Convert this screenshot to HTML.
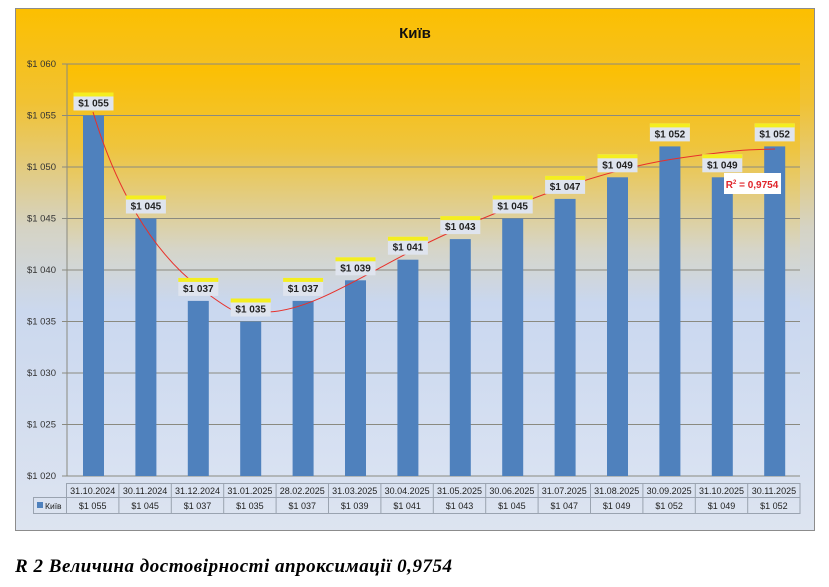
<!DOCTYPE html>
<html><head><meta charset="utf-8"><style>
body{margin:0;width:829px;height:582px;background:#fff;overflow:hidden;font-family:"Liberation Sans",sans-serif}
</style></head><body>
<svg width="829" height="582" viewBox="0 0 829 582" xmlns="http://www.w3.org/2000/svg" font-family="Liberation Sans, sans-serif">
<defs>
<linearGradient id="bg" x1="0" y1="0" x2="0" y2="1">
<stop offset="0" stop-color="#fcbf00"/><stop offset="0.18" stop-color="#f1c233"/><stop offset="0.42" stop-color="#d5d3c4"/><stop offset="0.58" stop-color="#cbd8ee"/><stop offset="1" stop-color="#dde4f0"/></linearGradient>
<linearGradient id="pl" x1="0" y1="0" x2="0" y2="1">
<stop offset="0" stop-color="#fcbf00"/><stop offset="0.2" stop-color="#efc43c"/><stop offset="0.45" stop-color="#d6d5c8"/><stop offset="0.58" stop-color="#c9d7ef"/><stop offset="1" stop-color="#d9e2f2"/></linearGradient>
</defs>
<rect x="15.5" y="8.5" width="799" height="522" fill="url(#bg)" stroke="#8c8c8c"/>
<rect x="67" y="64" width="733" height="412" fill="url(#pl)"/>
<text x="415" y="38" font-size="15" font-weight="bold" text-anchor="middle" fill="#111">Київ</text>
<g stroke="#8a8a80" stroke-width="1">
<line x1="67" y1="64" x2="800" y2="64"/><line x1="67" y1="115.5" x2="800" y2="115.5"/><line x1="67" y1="167" x2="800" y2="167"/><line x1="67" y1="218.5" x2="800" y2="218.5"/><line x1="67" y1="270" x2="800" y2="270"/><line x1="67" y1="321.5" x2="800" y2="321.5"/><line x1="67" y1="373" x2="800" y2="373"/><line x1="67" y1="424.5" x2="800" y2="424.5"/><line x1="67" y1="476" x2="800" y2="476"/>
<line x1="67" y1="64" x2="67" y2="476"/>
<line x1="62" y1="64" x2="67" y2="64"/><line x1="62" y1="115.5" x2="67" y2="115.5"/><line x1="62" y1="167" x2="67" y2="167"/><line x1="62" y1="218.5" x2="67" y2="218.5"/><line x1="62" y1="270" x2="67" y2="270"/><line x1="62" y1="321.5" x2="67" y2="321.5"/><line x1="62" y1="373" x2="67" y2="373"/><line x1="62" y1="424.5" x2="67" y2="424.5"/><line x1="62" y1="476" x2="67" y2="476"/>
</g>
<g font-size="9.5" fill="#333" text-anchor="end">
<text x="56" y="67">$1 060</text><text x="56" y="118.5">$1 055</text><text x="56" y="170">$1 050</text><text x="56" y="221.5">$1 045</text><text x="56" y="273">$1 040</text><text x="56" y="324.5">$1 035</text><text x="56" y="376">$1 030</text><text x="56" y="427.5">$1 025</text><text x="56" y="479">$1 020</text>
</g>
<g fill="#4f81bd">
<rect x="83" y="115.5" width="21" height="360.5"/>
<rect x="135.4" y="218.5" width="21" height="257.5"/>
<rect x="187.8" y="300.9" width="21" height="175.1"/>
<rect x="240.2" y="321.5" width="21" height="154.5"/>
<rect x="292.6" y="300.9" width="21" height="175.1"/>
<rect x="345" y="280.3" width="21" height="195.7"/>
<rect x="397.4" y="259.7" width="21" height="216.3"/>
<rect x="449.8" y="239.1" width="21" height="236.9"/>
<rect x="502.2" y="218.5" width="21" height="257.5"/>
<rect x="554.6" y="198.9" width="21" height="277.1"/>
<rect x="607" y="177.3" width="21" height="298.7"/>
<rect x="659.4" y="146.4" width="21" height="329.6"/>
<rect x="711.8" y="177.3" width="21" height="298.7"/>
<rect x="764.2" y="146.4" width="21" height="329.6"/>
</g>
<path d="M93,112 C115,185 150,250 200,288 S245,313 268,312 C320,310 380,262 460,228 S610,168 680,158 S750,150 775,149" fill="none" stroke="#e8302a" stroke-width="1"/>
<g font-size="10" font-weight="bold" fill="#222" text-anchor="middle">
<g transform="translate(93.5,115.5)"><rect x="-20" y="-23" width="40" height="18" fill="#dfe4ee"/><rect x="-20" y="-23" width="40" height="4" fill="#f4ee20"/><text y="-9">$1 055</text></g>
<g transform="translate(145.9,218.5)"><rect x="-20" y="-23" width="40" height="18" fill="#dfe4ee"/><rect x="-20" y="-23" width="40" height="4" fill="#f4ee20"/><text y="-9">$1 045</text></g>
<g transform="translate(198.3,300.9)"><rect x="-20" y="-23" width="40" height="18" fill="#dfe4ee"/><rect x="-20" y="-23" width="40" height="4" fill="#f4ee20"/><text y="-9">$1 037</text></g>
<g transform="translate(250.7,321.5)"><rect x="-20" y="-23" width="40" height="18" fill="#dfe4ee"/><rect x="-20" y="-23" width="40" height="4" fill="#f4ee20"/><text y="-9">$1 035</text></g>
<g transform="translate(303.1,300.9)"><rect x="-20" y="-23" width="40" height="18" fill="#dfe4ee"/><rect x="-20" y="-23" width="40" height="4" fill="#f4ee20"/><text y="-9">$1 037</text></g>
<g transform="translate(355.5,280.3)"><rect x="-20" y="-23" width="40" height="18" fill="#dfe4ee"/><rect x="-20" y="-23" width="40" height="4" fill="#f4ee20"/><text y="-9">$1 039</text></g>
<g transform="translate(407.9,259.7)"><rect x="-20" y="-23" width="40" height="18" fill="#dfe4ee"/><rect x="-20" y="-23" width="40" height="4" fill="#f4ee20"/><text y="-9">$1 041</text></g>
<g transform="translate(460.3,239.1)"><rect x="-20" y="-23" width="40" height="18" fill="#dfe4ee"/><rect x="-20" y="-23" width="40" height="4" fill="#f4ee20"/><text y="-9">$1 043</text></g>
<g transform="translate(512.7,218.5)"><rect x="-20" y="-23" width="40" height="18" fill="#dfe4ee"/><rect x="-20" y="-23" width="40" height="4" fill="#f4ee20"/><text y="-9">$1 045</text></g>
<g transform="translate(565.1,198.9)"><rect x="-20" y="-23" width="40" height="18" fill="#dfe4ee"/><rect x="-20" y="-23" width="40" height="4" fill="#f4ee20"/><text y="-9">$1 047</text></g>
<g transform="translate(617.5,177.3)"><rect x="-20" y="-23" width="40" height="18" fill="#dfe4ee"/><rect x="-20" y="-23" width="40" height="4" fill="#f4ee20"/><text y="-9">$1 049</text></g>
<g transform="translate(669.9,146.4)"><rect x="-20" y="-23" width="40" height="18" fill="#dfe4ee"/><rect x="-20" y="-23" width="40" height="4" fill="#f4ee20"/><text y="-9">$1 052</text></g>
<g transform="translate(722.3,177.3)"><rect x="-20" y="-23" width="40" height="18" fill="#dfe4ee"/><rect x="-20" y="-23" width="40" height="4" fill="#f4ee20"/><text y="-9">$1 049</text></g>
<g transform="translate(774.7,146.4)"><rect x="-20" y="-23" width="40" height="18" fill="#dfe4ee"/><rect x="-20" y="-23" width="40" height="4" fill="#f4ee20"/><text y="-9">$1 052</text></g>
</g>
<rect x="724" y="173" width="57" height="21" fill="#fff"/>
<text x="752" y="188" font-size="10" font-weight="bold" fill="#e0242a" text-anchor="middle">R<tspan font-size="6" dy="-4">2</tspan><tspan dy="4"> = 0,9754</tspan></text>
<g stroke="#9aa3b0" fill="none">
<rect x="66.5" y="483.5" width="733.5" height="14"/>
<rect x="33.5" y="497.5" width="766.5" height="16"/>
<line x1="66.5" y1="497" x2="66.5" y2="514"/>
<path d="M118.9,483V514M171.3,483V514M223.7,483V514M276.1,483V514M328.5,483V514M380.9,483V514M433.3,483V514M485.7,483V514M538.1,483V514M590.5,483V514M642.9,483V514M695.3,483V514M747.7,483V514"/>
</g>
<g font-size="9" fill="#222" text-anchor="middle">
<text x="92.7" y="494">31.10.2024</text><text x="145.1" y="494">30.11.2024</text><text x="197.5" y="494">31.12.2024</text><text x="249.9" y="494">31.01.2025</text><text x="302.3" y="494">28.02.2025</text><text x="354.7" y="494">31.03.2025</text><text x="407.1" y="494">30.04.2025</text><text x="459.5" y="494">31.05.2025</text><text x="511.9" y="494">30.06.2025</text><text x="564.3" y="494">31.07.2025</text><text x="616.7" y="494">31.08.2025</text><text x="669.1" y="494">30.09.2025</text><text x="721.5" y="494">31.10.2025</text><text x="773.9" y="494">30.11.2025</text>
<text x="92.7" y="509">$1 055</text><text x="145.1" y="509">$1 045</text><text x="197.5" y="509">$1 037</text><text x="249.9" y="509">$1 035</text><text x="302.3" y="509">$1 037</text><text x="354.7" y="509">$1 039</text><text x="407.1" y="509">$1 041</text><text x="459.5" y="509">$1 043</text><text x="511.9" y="509">$1 045</text><text x="564.3" y="509">$1 047</text><text x="616.7" y="509">$1 049</text><text x="669.1" y="509">$1 052</text><text x="721.5" y="509">$1 049</text><text x="773.9" y="509">$1 052</text>
</g>
<rect x="37" y="502" width="6" height="6" fill="#4f81bd"/>
<text x="45" y="509" font-size="8.5" fill="#222">Київ</text>
<text x="15" y="572" font-family="Liberation Serif, serif" font-size="19" font-weight="bold" font-style="italic" fill="#000" textLength="437" lengthAdjust="spacing">R 2 Величина достовірності апроксимації 0,9754</text>
</svg>
</body></html>
